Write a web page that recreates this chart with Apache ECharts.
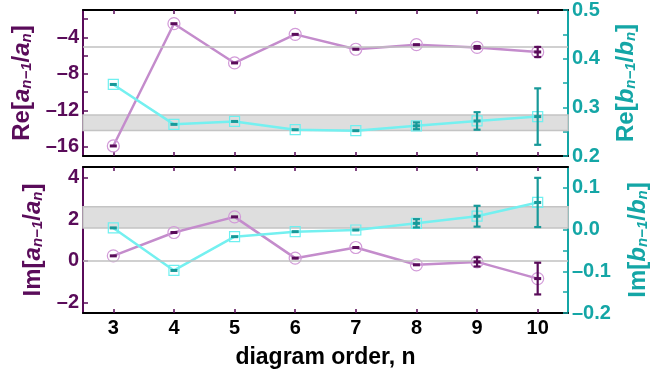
<!DOCTYPE html>
<html><head><meta charset="utf-8">
<script src="https://cdn.jsdelivr.net/npm/echarts@6/dist/echarts.min.js"></script>
<style>html,body{margin:0;padding:0;background:#fff}#c{width:660px;height:374px}</style>
</head><body><div id="c"></div>
<script>
const nLabels = ['3','4','5','6','7','8','9','10'];
const reA    = [-15.9, -2.5, -6.8, -3.67, -5.3, -4.8, -5.1, -5.6];
const reAErr = [0, 0, 0, 0, 0, 0, 0.15, 0.55];
const reB    = [0.347, 0.265, 0.271, 0.254, 0.252, 0.262, 0.272, 0.281];
const reBErr = [0, 0, 0, 0, 0, 0.007, 0.018, 0.058];
const imA    = [0.24, 1.36, 2.11, 0.13, 0.64, -0.19, -0.05, -0.85];
const imAErr = [0, 0, 0, 0, 0, 0, 0.22, 0.76];
const imB    = [0.004, -0.098, -0.017, -0.005, -0.001, 0.015, 0.032, 0.065];
const imBErr = [0, 0, 0, 0, 0, 0.01, 0.025, 0.059];
const reALine = -5;
const reABand = [-12.5, -14.2];
const imALine = 0;
const imABand = [1.57, 2.59];
const reLeftTicks = [-16,-14,-12,-10,-8,-6,-4,-2];
const reLeftLabels = [-16,-12,-8,-4];
const reRightTicks = [0.2,0.25,0.3,0.35,0.4,0.45,0.5];
const reRightLabels = [0.2,0.3,0.4,0.5];
const imLeftTicks = [-2,0,2,4];
const imRightTicks = [-0.2,-0.15,-0.1,-0.05,0,0.05,0.1];
const imRightLabels = [-0.2,-0.1,0,0.1];

const PURPLE = '#5a0c5a', LPURPLE = '#c48ccc', TEAL = '#14a6a6', DTEAL = '#179999', CYAN = '#74f0f0';
const FONT = 'Liberation Sans, Arial, sans-serif';
const MINUS = '\u2013';
const fmt1 = v => (v < -1e-9 ? MINUS : '') + Math.abs(v).toFixed(1);
const fmt0 = v => (v < 0 ? MINUS : '') + Math.abs(v);

function richName(color) {
  return {
    color: color, fontSize: 24, fontWeight: 'bold', fontFamily: FONT, lineHeight: 24,
    rich: {
      r: {fontSize: 24, fontWeight: 'bold', fontFamily: FONT, color: color, lineHeight: 24},
      i: {fontSize: 24, fontWeight: 'bold', fontStyle: 'italic', fontFamily: FONT, color: color, lineHeight: 24},
      s: {fontSize: 15, fontWeight: 'bold', fontStyle: 'italic', fontFamily: FONT, color: color, lineHeight: 15, verticalAlign: 'bottom'}
    }
  };
}
function nm(pre, v) { return '{r|' + pre + '[}{i|' + v + '}{s|n\u22121}{r|/}{i|' + v + '}{s|n}{r|]}'; }

function xAx(grid, pos, labels) {
  return {
    type: 'category', gridIndex: grid, position: pos, data: nLabels, boundaryGap: true,
    axisLine: {show: true, onZero: false, lineStyle: {color: '#000', width: 2}},
    axisTick: {show: true, inside: true, alignWithLabel: true, length: 4, lineStyle: {color: PURPLE, width: 1.5}},
    axisLabel: {show: labels, color: '#000', fontWeight: 'bold', fontSize: 20, fontFamily: FONT, margin: 5},
    splitLine: {show: false},
    name: labels ? 'diagram order, n' : '', nameLocation: 'middle', nameGap: 33,
    nameTextStyle: {color: '#000', fontWeight: 'bold', fontSize: 23, fontFamily: FONT}
  };
}
function yAx(grid, pos, min, max, ticks, labels, fmt, color, name, gap) {
  return {
    type: 'value', gridIndex: grid, position: pos, min: min, max: max,
    axisLine: {show: true, onZero: false, lineStyle: {color: color, width: 2}},
    axisTick: {show: true, inside: true, length: 5, customValues: ticks, lineStyle: {color: color, width: 1.5}},
    axisLabel: {show: true, customValues: labels, formatter: fmt, color: color, fontWeight: 'bold', fontSize: 20, fontFamily: FONT, margin: 4},
    splitLine: {show: false},
    name: name, nameLocation: 'middle', nameRotate: 90, nameGap: gap,
    nameTextStyle: richName(color)
  };
}

function errItem(color) {
  return function (params, api) {
    const x = api.value(0), y = api.value(1), e = api.value(2);
    const c = api.coord([x, y]);
    const ch = [];
    if (e > 0) {
      const t = api.coord([x, y + e]), b = api.coord([x, y - e]);
      const ls = {stroke: color, lineWidth: 2.2};
      ch.push({type: 'line', shape: {x1: c[0], y1: t[1], x2: c[0], y2: b[1]}, style: ls});
      ch.push({type: 'line', shape: {x1: c[0]-3.5, y1: t[1], x2: c[0]+3.5, y2: t[1]}, style: ls});
      ch.push({type: 'line', shape: {x1: c[0]-3.5, y1: b[1], x2: c[0]+3.5, y2: b[1]}, style: ls});
    }
    ch.push({type: 'rect', shape: {x: c[0]-3.5, y: c[1]-1.5, width: 7, height: 3}, style: {fill: color}});
    return {type: 'group', children: ch};
  };
}
function errData(vals, errs) { return vals.map((v, i) => [i, v, errs[i]]); }

function lineS(xi, yi, data, color, sym, symColor, z) {
  return {
    type: 'line', xAxisIndex: xi, yAxisIndex: yi, data: data, z: z,
    symbol: sym, symbolSize: sym === 'circle' ? 12 : 10, showSymbol: true,
    lineStyle: {color: color, width: 2.5}, itemStyle: {color: 'rgba(0,0,0,0)', borderColor: symColor, borderWidth: 1.2},
    emphasis: {disabled: true}, silent: true, animation: false
  };
}
function refS(xi, yi, line, band) {
  return {
    type: 'line', xAxisIndex: xi, yAxisIndex: yi, data: [], z: 1, silent: true, animation: false,
    markArea: {silent: true, itemStyle: {color: '#dedede', borderColor: '#c4c4c4', borderWidth: 1.5},
      data: [[{yAxis: band[0]}, {yAxis: band[1]}]]},
    markLine: {silent: true, symbol: 'none', label: {show: false}, lineStyle: {color: '#c0c0c0', width: 1.5, type: 'solid'},
      data: [{yAxis: line}], animation: false}
  };
}

const chart = echarts.init(document.getElementById('c'));
chart.setOption({
  animation: false,
  grid: [
    {left: 83, top: 10, width: 485, height: 146},
    {left: 83, top: 167, width: 485, height: 146}
  ],
  xAxis: [xAx(0, 'bottom', false), xAx(0, 'top', false), xAx(1, 'bottom', true), xAx(1, 'top', false)],
  yAxis: [
    yAx(0, 'left', -17, -1, reLeftTicks, reLeftLabels, fmt0, PURPLE, nm('Re', 'a'), 46),
    yAx(0, 'right', 0.2, 0.5, reRightTicks, reRightLabels, fmt1, TEAL, nm('Re', 'b'), 46),
    yAx(1, 'left', -2.5, 4.5, imLeftTicks, imLeftTicks, fmt0, PURPLE, nm('Im', 'a'), 36),
    yAx(1, 'right', -0.2, 0.15, imRightTicks, imRightLabels, fmt1, TEAL, nm('Im', 'b'), 58)
  ],
  series: [
    refS(0, 0, reALine, reABand),
    refS(2, 2, imALine, imABand),
    lineS(0, 0, reA, LPURPLE, 'circle', '#d29ad8', 3),
    lineS(0, 1, reB, CYAN, 'rect', '#6ef0f0', 3),
    lineS(2, 2, imA, LPURPLE, 'circle', '#d29ad8', 3),
    lineS(2, 3, imB, CYAN, 'rect', '#6ef0f0', 3),
    {type: 'custom', xAxisIndex: 0, yAxisIndex: 0, data: errData(reA, reAErr), renderItem: errItem(PURPLE), z: 5, silent: true},
    {type: 'custom', xAxisIndex: 0, yAxisIndex: 1, data: errData(reB, reBErr), renderItem: errItem(DTEAL), z: 5, silent: true},
    {type: 'custom', xAxisIndex: 2, yAxisIndex: 2, data: errData(imA, imAErr), renderItem: errItem(PURPLE), z: 5, silent: true},
    {type: 'custom', xAxisIndex: 2, yAxisIndex: 3, data: errData(imB, imBErr), renderItem: errItem(DTEAL), z: 5, silent: true}
  ]
});
</script></body></html>
